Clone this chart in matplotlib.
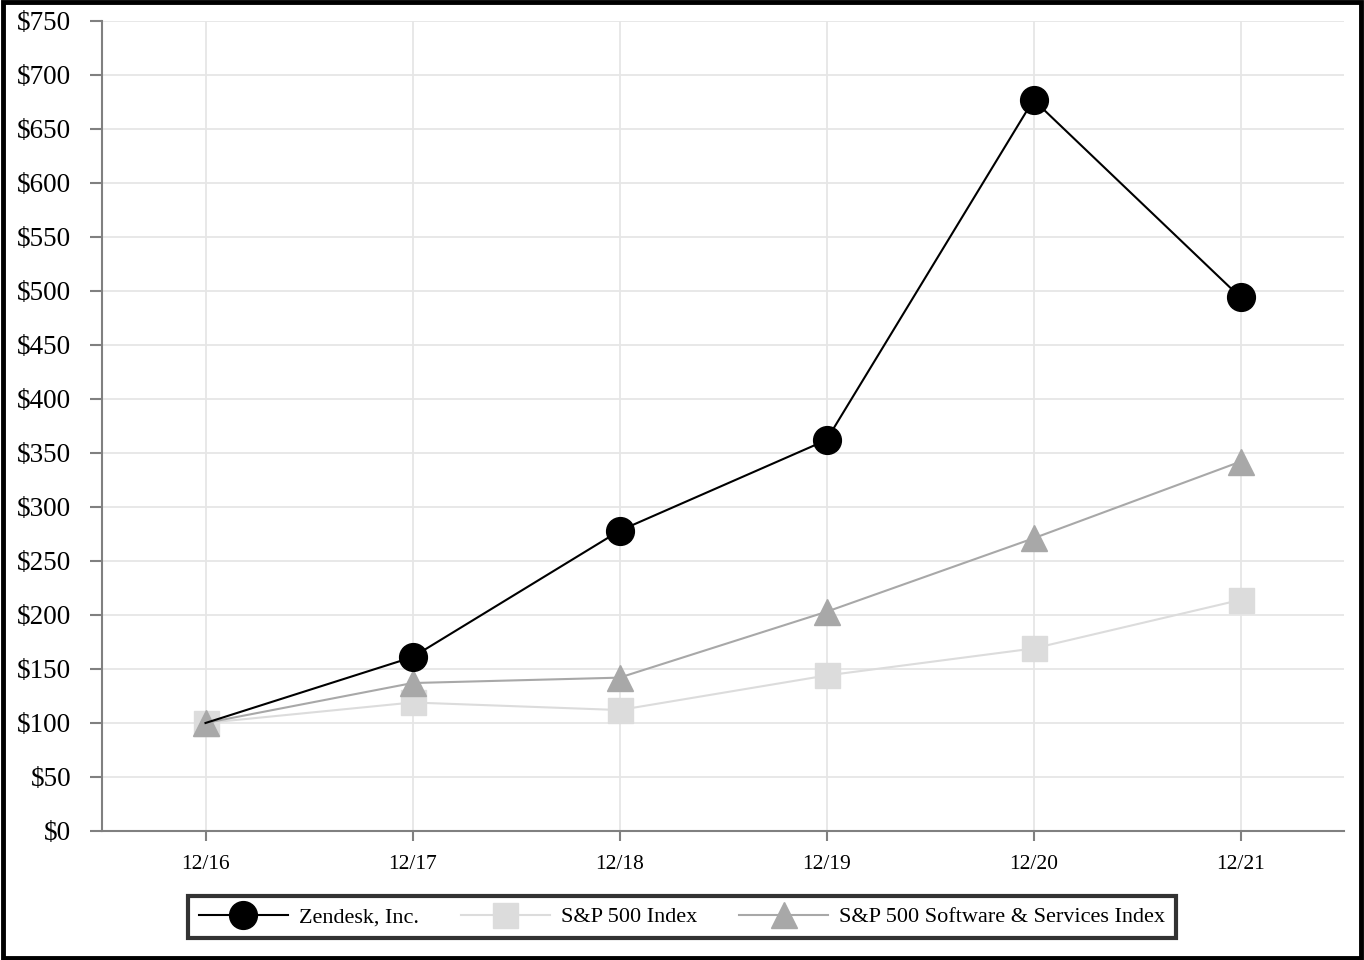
import matplotlib.pyplot as plt
import numpy as np
from matplotlib.lines import Line2D
from matplotlib.patches import Rectangle

# data
years = ['12/16', '12/17', '12/18', '12/19', '12/20', '12/21']
zendesk = [100, 161, 278, 362, 677, 494]
sp500 = [100, 119, 112, 144, 169, 214]
sp_soft = [100, 137, 142, 203, 271, 342]
yticks = np.arange(0, 751, 50)

plt.rcParams['font.family'] = ['Liberation Serif', 'DejaVu Serif']

fig = plt.figure(figsize=(13.64, 9.6), dpi=100)
ax = fig.add_axes([102/1364, 1-831/960, (1344-102)/1364, (831-21)/960])

x = np.arange(len(years))
# the first Zendesk point has no marker in the original
ax.plot(x, zendesk, color='black', lw=1.5, marker='o', ms=20, markevery=list(range(1, 6)), zorder=5)
ax.plot(x, sp500, color='#dcdcdc', lw=1.5, marker='s', ms=18, zorder=3)
ax.plot(x, sp_soft, color='#a8a8a8', lw=1.5, marker='^', ms=19, zorder=4)

ax.set_xlim(-0.5, 5.5)
ax.set_ylim(0, 750)
ax.set_xticks(x)
ax.set_xticklabels(years, fontsize=15.5)
ax.set_yticks(yticks)
ax.set_yticklabels(['$%d' % v for v in yticks], fontsize=19.5)
ax.grid(True, color='#e6e6e6', lw=1.3)
ax.set_axisbelow(True)
for s in ['top', 'right']:
    ax.spines[s].set_visible(False)
for s in ['left', 'bottom']:
    ax.spines[s].set_color('#808080')
    ax.spines[s].set_linewidth(1.5)
ax.tick_params(axis='y', length=9, width=1.5, color='#808080', pad=13)
ax.tick_params(axis='x', length=7, width=1.5, color='#808080', pad=10)

handles = [
    Line2D([], [], color='black', lw=1.5, marker='o', ms=20),
    Line2D([], [], color='#dcdcdc', lw=1.5, marker='s', ms=18),
    Line2D([], [], color='#a8a8a8', lw=1.5, marker='^', ms=19),
]
labels = ['Zendesk, Inc.', 'S&P 500 Index', 'S&P 500 Software & Services Index']
leg = fig.legend(handles, labels, loc='center', bbox_to_anchor=(682/1364, 1-917/960), ncol=3,
                 fontsize=16, frameon=True, fancybox=False, edgecolor='black', handlelength=4.0,
                 handletextpad=0.5, columnspacing=1.9, borderpad=0.5)
leg.get_frame().set_linewidth(3)

# outer border
fig.patches.append(Rectangle((0.002, 0.002), 0.996, 0.996, transform=fig.transFigure,
                             fill=False, edgecolor='black', lw=3.5))

fig.savefig('out.png', dpi=100)
